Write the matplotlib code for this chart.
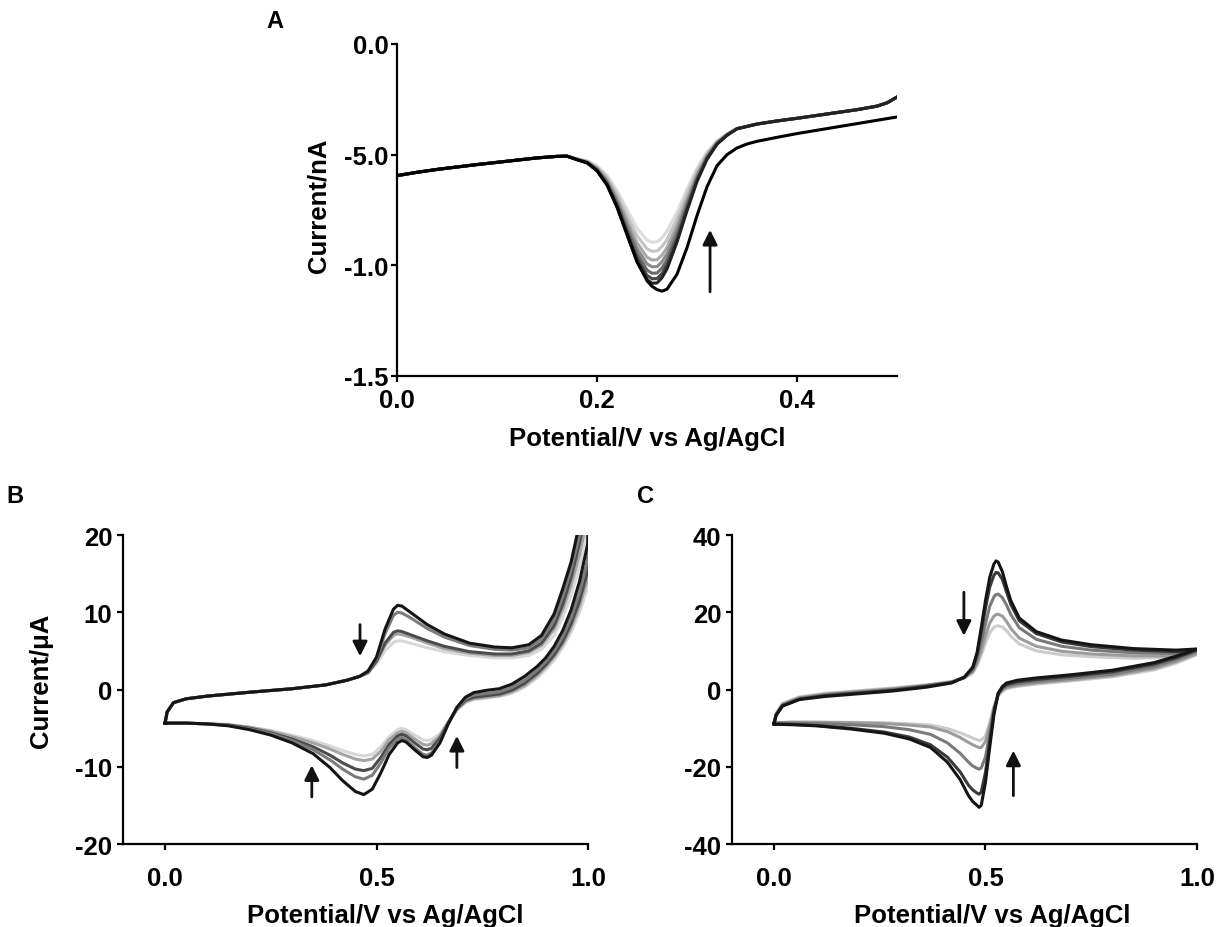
import matplotlib
matplotlib.use('Agg')
import matplotlib.pyplot as plt

plt.rcParams['font.family'] = ['Liberation Sans', 'DejaVu Sans']
plt.rcParams['font.weight'] = 'bold'
plt.rcParams['axes.labelweight'] = 'bold'
plt.rcParams['axes.unicode_minus'] = False

# ---------------- panel A : pulse voltammograms ----------------
A_X_LEFT = [0.00, 0.02, 0.04, 0.06, 0.08, 0.10, 0.12, 0.14, 0.16, 0.17]
A_Y_LEFT = [-0.595, -0.58, -0.567, -0.556, -0.545, -0.535, -0.525, -0.515, -0.508, -0.507]

A_X_PEAK = [0.18, 0.19, 0.20, 0.21, 0.22, 0.23, 0.24, 0.25, 0.255, 0.26, 0.265, 0.27, 0.28, 0.29,
            0.30, 0.31, 0.32, 0.33]
A_PEAKS = [
    [-0.519, -0.527, -0.551, -0.594, -0.663, -0.748, -0.833, -0.887, -0.896, -0.894, -0.876, -0.846,
     -0.759, -0.656, -0.561, -0.488, -0.437, -0.406],
    [-0.520, -0.530, -0.556, -0.604, -0.679, -0.773, -0.866, -0.926, -0.937, -0.935, -0.915, -0.884,
     -0.789, -0.677, -0.574, -0.495, -0.441, -0.408],
    [-0.521, -0.532, -0.561, -0.613, -0.695, -0.797, -0.898, -0.964, -0.976, -0.975, -0.954, -0.920,
     -0.818, -0.698, -0.587, -0.502, -0.444, -0.409],
    [-0.521, -0.533, -0.564, -0.620, -0.707, -0.816, -0.924, -0.994, -1.007, -1.006, -0.984, -0.948,
     -0.840, -0.714, -0.597, -0.508, -0.447, -0.410],
    [-0.522, -0.535, -0.568, -0.627, -0.719, -0.834, -0.947, -1.022, -1.036, -1.035, -1.012, -0.975,
     -0.862, -0.729, -0.606, -0.513, -0.449, -0.411],
    [-0.523, -0.536, -0.571, -0.632, -0.729, -0.849, -0.968, -1.046, -1.061, -1.060, -1.037, -0.998,
     -0.880, -0.743, -0.615, -0.517, -0.451, -0.412],
    [-0.523, -0.537, -0.573, -0.637, -0.737, -0.861, -0.984, -1.065, -1.081, -1.080, -1.056, -1.016,
     -0.895, -0.753, -0.621, -0.521, -0.453, -0.413],
]
A_COLORS = ['#dcdcdc', '#c4c4c4', '#a8a8a8', '#8a8a8a', '#6a6a6a', '#454545', '#222222']

A_X_RIGHT = [0.34, 0.36, 0.38, 0.40, 0.42, 0.44, 0.46, 0.48, 0.49, 0.50]
A_Y_RIGHT = [-0.383, -0.362, -0.348, -0.336, -0.323, -0.310, -0.297, -0.281, -0.266, -0.24]

# last (shifted) trace
A_X_LAST = [0.18, 0.19, 0.20, 0.21, 0.22, 0.23, 0.24, 0.25, 0.255, 0.26, 0.265, 0.27, 0.28, 0.29,
            0.30, 0.31, 0.32, 0.33, 0.34, 0.35, 0.36, 0.38, 0.40, 0.42, 0.44, 0.46, 0.48, 0.50]
A_Y_LAST = [-0.523, -0.537, -0.573, -0.637, -0.737, -0.861, -0.984, -1.07, -1.095, -1.11, -1.117, -1.108,
            -1.04, -0.92, -0.775, -0.645, -0.55, -0.50, -0.47, -0.452, -0.44, -0.422, -0.405, -0.39,
            -0.375, -0.36, -0.345, -0.33]

A_ARROW = [0.313, -1.12, -0.84]          # x, tail, head
A_YTICKS = [0.0, -0.5, -1.0, -1.5]
A_YTICKLABELS = ['0.0', '-5.0', '-1.0', '-1.5']
A_XTICKS = [0.0, 0.2, 0.4]
A_XTICKLABELS = ['0.0', '0.2', '0.4']

# ---------------- panel B : cyclic voltammograms ----------------
B_X_UP_SHARED = [0.0, 0.005, 0.02, 0.05, 0.1, 0.2, 0.3, 0.38, 0.43, 0.46]
B_Y_UP_SHARED = [-4.35, -2.9, -1.7, -1.2, -0.85, -0.35, 0.1, 0.6, 1.2, 1.7]
B_X_UP = [0.48, 0.50, 0.52, 0.54, 0.55, 0.56, 0.58, 0.62, 0.66, 0.72, 0.78, 0.82, 0.86, 0.89, 0.92, 0.94, 0.96, 0.98, 1.0]
B_UP = [
    [2.1, 3.3, 5.0, 6.1, 6.3, 6.3, 6.0, 5.4, 4.9, 4.4, 4.1, 4.1, 4.4, 5.2, 7.0, 9.3, 12.2, 16.0, 20.5],
    [2.2, 3.6, 5.7, 7.0, 7.2, 7.1, 6.8, 6.0, 5.3, 4.7, 4.4, 4.4, 4.8, 5.7, 7.8, 10.3, 13.5, 17.5, 22.5],
    [2.2, 3.7, 6.0, 7.4, 7.6, 7.5, 7.1, 6.3, 5.6, 4.9, 4.6, 4.6, 5.0, 6.0, 8.3, 11.0, 14.5, 19.0, 24.5],
    [2.3, 4.0, 7.2, 9.6, 10.0, 9.9, 9.3, 7.9, 6.8, 5.7, 5.2, 5.1, 5.4, 6.5, 9.0, 12.0, 15.5, 20.0, 26.0],
    [2.4, 4.2, 7.8, 10.4, 10.9, 10.8, 10.0, 8.4, 7.2, 6.0, 5.5, 5.4, 5.8, 7.0, 9.8, 13.0, 16.5, 21.5, 28.0],
]
B_X_LOW = [1.0, 0.98, 0.96, 0.94, 0.92, 0.90, 0.88, 0.85, 0.82, 0.79, 0.76, 0.73, 0.71, 0.69, 0.67, 0.65, 0.63,
           0.62, 0.61, 0.59, 0.57, 0.56, 0.55, 0.53, 0.51, 0.49, 0.47, 0.45, 0.42, 0.39, 0.35, 0.30, 0.25,
           0.20, 0.15, 0.10, 0.05, 0.0]
B_LOW = [
    [13.3, 10.0, 7.4, 5.4, 3.8, 2.6, 1.5, 0.3, -0.5, -0.9, -1.1, -1.3, -1.7, -2.6, -4.1, -5.7, -6.5,
     -6.6, -6.5, -5.9, -5.2, -5.0, -5.2, -6.1, -7.4, -8.4, -8.6, -8.4, -7.9, -7.3, -6.6, -5.9, -5.3,
     -4.85, -4.5, -4.45, -4.35, -4.35],
    [14.5, 10.8, 8.0, 5.8, 4.2, 2.9, 1.8, 0.5, -0.3, -0.8, -1.0, -1.2, -1.6, -2.6, -4.2, -6.0, -7.0,
     -7.2, -7.1, -6.4, -5.6, -5.4, -5.6, -6.5, -8.0, -9.0, -9.2, -9.0, -8.4, -7.7, -6.9, -6.1, -5.4,
     -4.9, -4.55, -4.45, -4.35, -4.35],
    [15.5, 11.5, 8.5, 6.2, 4.5, 3.2, 2.1, 0.8, -0.1, -0.6, -0.8, -1.0, -1.4, -2.5, -4.3, -6.3, -7.6,
     -7.8, -7.7, -6.9, -6.0, -5.8, -6.0, -7.1, -8.8, -10.2, -10.5, -10.3, -9.5, -8.5, -7.4, -6.4, -5.6,
     -5.0, -4.6, -4.45, -4.35, -4.35],
    [17.0, 12.6, 9.3, 6.8, 5.0, 3.6, 2.5, 1.2, 0.3, -0.3, -0.5, -0.7, -1.2, -2.4, -4.4, -6.7, -8.2,
     -8.5, -8.4, -7.5, -6.5, -6.2, -6.4, -7.6, -9.5, -11.1, -11.6, -11.3, -10.3, -9.1, -7.8, -6.6, -5.7,
     -5.1, -4.65, -4.45, -4.35, -4.35],
    [19.0, 14.0, 10.3, 7.6, 5.6, 4.1, 3.0, 1.7, 0.7, 0.1, -0.1, -0.4, -1.0, -2.3, -4.4, -6.9, -8.5,
     -8.8, -8.7, -7.8, -6.8, -6.6, -6.9, -8.4, -10.8, -12.9, -13.6, -13.2, -11.8, -10.1, -8.3, -6.9, -5.9,
     -5.2, -4.7, -4.45, -4.35, -4.35],
]
B_COLORS = ['#d8d8d8', '#a4a4a4', '#4c4c4c', '#7c7c7c', '#151515']
B_ARROWS = [[0.461, 8.4, 4.3], [0.347, -13.9, -9.8], [0.690, -10.1, -6.0]]
B_YTICKS = [-20, -10, 0, 10, 20]
B_YTICKLABELS = ['-20', '-10', '0', '10', '20']

# ---------------- panel C : cyclic voltammograms ----------------
C_X_UP = [0.0, 0.005, 0.02, 0.06, 0.12, 0.2, 0.28, 0.36, 0.42, 0.45, 0.47, 0.48, 0.49, 0.50, 0.51, 0.52,
          0.525, 0.53, 0.54, 0.55, 0.56, 0.58, 0.62, 0.68, 0.75, 0.85, 0.95, 1.0]
C_UP = [
    [-8.6, -6.2, -3.6, -1.9, -1.0, -0.3, 0.4, 1.2, 2.1, 3.0, 4.3, 6.2, 8.9, 12.0, 14.7, 16.1,
     16.4, 16.5, 16.2, 15.2, 13.8, 11.8, 10.0, 9.0, 8.5, 8.1, 8.3, 9.0],
    [-8.7, -6.4, -3.8, -2.1, -1.2, -0.5, 0.2, 1.1, 2.0, 3.0, 4.6, 6.8, 10.0, 13.8, 17.2, 19.0,
     19.4, 19.5, 19.0, 17.6, 15.8, 13.3, 11.2, 9.9, 9.2, 8.7, 8.7, 9.3],
    [-8.8, -6.5, -4.0, -2.3, -1.4, -0.7, 0.0, 1.0, 1.9, 3.1, 5.0, 7.8, 12.0, 17.0, 21.5, 24.0,
     24.6, 24.7, 23.8, 21.8, 19.4, 16.0, 13.0, 11.2, 10.2, 9.5, 9.3, 9.8],
    [-8.9, -6.6, -4.2, -2.5, -1.6, -0.9, -0.2, 0.8, 1.8, 3.2, 5.6, 9.0, 14.8, 21.0, 26.5, 29.6,
     30.3, 30.2, 28.5, 25.2, 22.0, 17.8, 14.5, 12.3, 11.1, 10.2, 9.8, 10.2],
    [-8.9, -6.7, -4.3, -2.6, -1.8, -1.1, -0.4, 0.6, 1.7, 3.2, 5.8, 9.5, 16.0, 23.0, 29.0, 32.5,
     33.3, 33.0, 30.5, 26.5, 23.0, 18.5, 15.0, 12.8, 11.6, 10.6, 10.2, 10.5],
]
C_X_LOW = [1.0, 0.95, 0.9, 0.8, 0.7, 0.62, 0.575, 0.55, 0.54, 0.53, 0.52, 0.51, 0.50, 0.49, 0.485, 0.48,
           0.47, 0.46, 0.44, 0.41, 0.37, 0.32, 0.26, 0.18, 0.1, 0.04, 0.0]
C_LOW = [
    [9.0, 6.8, 5.1, 3.3, 2.2, 1.4, 0.8, 0.2, -0.5, -1.6, -4.4, -8.6, -12.0, -13.1, -13.2, -13.0,
     -12.6, -12.1, -11.2, -10.1, -9.2, -8.9, -8.6, -8.5, -8.4, -8.4, -8.6],
    [9.3, 7.2, 5.5, 3.6, 2.5, 1.7, 1.1, 0.5, -0.2, -1.4, -4.6, -9.5, -13.5, -15.0, -15.0, -14.8,
     -14.3, -13.7, -12.4, -10.9, -9.7, -9.2, -8.8, -8.6, -8.5, -8.5, -8.6],
    [9.8, 7.7, 6.0, 4.0, 2.9, 2.1, 1.5, 0.9, 0.2, -1.2, -5.2, -11.5, -17.5, -20.3, -20.6, -20.4,
     -19.8, -18.8, -16.5, -13.8, -11.6, -10.4, -9.6, -9.1, -8.8, -8.7, -8.7],
    [10.2, 8.2, 6.6, 4.6, 3.4, 2.6, 2.0, 1.3, 0.5, -1.0, -5.8, -13.5, -21.5, -26.5, -27.1, -26.8,
     -26.0, -24.8, -21.3, -17.5, -14.3, -12.3, -11.0, -10.0, -9.3, -9.0, -8.9],
    [10.5, 8.6, 7.0, 5.0, 3.8, 3.0, 2.4, 1.7, 0.8, -1.0, -6.5, -15.0, -24.0, -30.0, -30.5, -30.0,
     -29.0, -27.5, -23.3, -18.8, -15.0, -12.8, -11.3, -10.2, -9.4, -9.1, -9.0],
]
C_COLORS = ['#cccccc', '#9c9c9c', '#7a7a7a', '#3a3a3a', '#151515']
C_ARROWS = [[0.449, 25.2, 13.9], [0.566, -27.5, -15.8]]
C_YTICKS = [-40, -20, 0, 20, 40]
C_YTICKLABELS = ['-40', '-20', '0', '20', '40']

CV_XTICKS = [0.0, 0.5, 1.0]
CV_XTICKLABELS = ['0.0', '0.5', '1.0']
XLABEL = 'Potential/V vs Ag/AgCl'


def style(ax, ypad, xpad):
    for s in ['top', 'right']:
        ax.spines[s].set_visible(False)
    for s in ['left', 'bottom']:
        ax.spines[s].set_linewidth(1.6)
    ax.tick_params(axis='both', direction='out', length=4.5, width=1.6, labelsize=18.5)
    ax.tick_params(axis='y', pad=ypad)
    ax.tick_params(axis='x', pad=xpad)


def arrow(ax, x, tail, head):
    ax.annotate('', xy=(x, head), xytext=(x, tail),
                arrowprops=dict(arrowstyle='-|>', color='#111111', lw=2, mutation_scale=22,
                                shrinkA=0, shrinkB=0))


fig = plt.figure(figsize=(12.25, 9.28), dpi=100)
fig.patch.set_facecolor('white')

# panel A
axA = fig.add_axes([0.3241, 0.5938, 0.4082, 0.3578])
for ys, c in zip(A_PEAKS, A_COLORS):
    axA.plot(A_X_LEFT + A_X_PEAK + A_X_RIGHT, A_Y_LEFT + ys + A_Y_RIGHT, color=c, lw=2.2)
axA.plot(A_X_LEFT + A_X_LAST, A_Y_LEFT + A_Y_LAST, color='#000000', lw=2.2)
arrow(axA, *A_ARROW)
axA.set_xlim(0, 0.5)
axA.set_ylim(-1.5, 0)
axA.set_xticks(A_XTICKS, A_XTICKLABELS)
axA.set_yticks(A_YTICKS, A_YTICKLABELS)
style(axA, 1.5, 4)
axA.set_xlabel(XLABEL, fontsize=18.5)
axA.xaxis.set_label_coords(0.5, -0.15)
axA.set_ylabel('Current/nA', fontsize=18.5)
axA.yaxis.set_label_coords(-0.134, 0.515)

# panel B
axB = fig.add_axes([0.1002, 0.0894, 0.3798, 0.3330])
for up, low, c in zip(B_UP, B_LOW, B_COLORS):
    axB.plot(B_X_UP_SHARED + B_X_UP + B_X_LOW, B_Y_UP_SHARED + up + low, color=c, lw=2.2)
for a in B_ARROWS:
    arrow(axB, *a)
axB.set_xlim(-0.1, 1.0)
axB.set_ylim(-20, 20)
axB.set_xticks(CV_XTICKS, CV_XTICKLABELS)
axB.set_yticks(B_YTICKS, B_YTICKLABELS)
style(axB, 3, 11)
axB.set_xlabel(XLABEL, fontsize=18.5)
axB.xaxis.set_label_coords(0.565, -0.19)
axB.set_ylabel('Current/μA', fontsize=18.5)
axB.yaxis.set_label_coords(-0.15, 0.53)

# panel C
axC = fig.add_axes([0.5973, 0.0894, 0.3798, 0.3330])
for up, low, c in zip(C_UP, C_LOW, C_COLORS):
    axC.plot(C_X_UP + C_X_LOW, up + low, color=c, lw=2.2)
for a in C_ARROWS:
    arrow(axC, *a)
axC.set_xlim(-0.1, 1.0)
axC.set_ylim(-40, 40)
axC.set_xticks(CV_XTICKS, CV_XTICKLABELS)
axC.set_yticks(C_YTICKS, C_YTICKLABELS)
style(axC, 3, 11)
axC.set_xlabel(XLABEL, fontsize=18.5)
axC.xaxis.set_label_coords(0.56, -0.19)

# panel letters
fig.text(275 / 1225, 1 - 22 / 928, 'A', fontsize=17, fontweight='bold', ha='center', va='center')
fig.text(15 / 1225, 1 - 497 / 928, 'B', fontsize=17, fontweight='bold', ha='center', va='center')
fig.text(645 / 1225, 1 - 497 / 928, 'C', fontsize=17, fontweight='bold', ha='center', va='center')

fig.savefig('out.png', dpi=100, facecolor='white')
